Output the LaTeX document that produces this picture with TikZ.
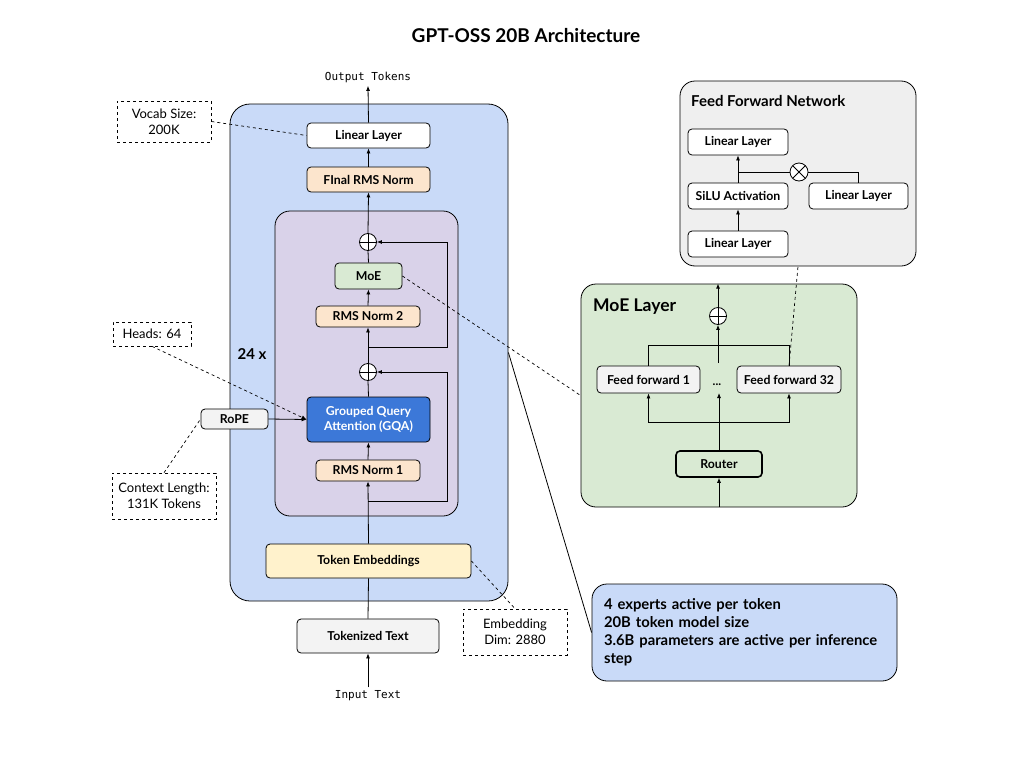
\documentclass[tikz,border=0pt]{standalone}
\usepackage{fontspec}
\setmainfont{Lato}
\setmonofont{DejaVu Sans Mono}
\usetikzlibrary{positioning}
\usetikzlibrary{arrows.meta}

\definecolor{outerblue}{HTML}{C9DAF8}
\definecolor{layerpurple}{HTML}{D9D2E9}
\definecolor{normorange}{HTML}{FCE5CD}
\definecolor{moegreen}{HTML}{D9EAD3}
\definecolor{embedyellow}{HTML}{FFF2CC}
\definecolor{gqablue}{HTML}{3C78D8}
\definecolor{lightgrey}{HTML}{F3F3F3}
\definecolor{ffngrey}{HTML}{EFEFEF}

\tikzset{
  block/.style={draw, rectangle, rounded corners=4pt, inner sep=0pt, align=center, line width=0.8pt, font=\fontsize{12.3}{15}\selectfont\bfseries},
  infobox/.style={draw, dashed, rectangle, inner sep=0pt, align=center, line width=0.7pt, font=\fontsize{13}{16}\selectfont},
  panel/.style={draw, rectangle, inner sep=0pt, line width=0.8pt},
  addop/.style={circle, draw, fill=white, minimum size=17pt, inner sep=0pt, line width=0.8pt,
    path picture={\draw (path picture bounding box.north) -- (path picture bounding box.south)
      (path picture bounding box.west) -- (path picture bounding box.east);}},
  mulop/.style={circle, draw, fill=white, minimum size=18pt, inner sep=0pt, line width=0.8pt,
    path picture={\draw ([shift={(45:9pt)}]path picture bounding box.center) -- ([shift={(225:9pt)}]path picture bounding box.center)
      ([shift={(135:9pt)}]path picture bounding box.center) -- ([shift={(315:9pt)}]path picture bounding box.center);}},
  flow/.style={line width=0.8pt},
  >={Latex[length=5pt,width=4pt]}
}

\begin{document}
\begin{tikzpicture}[x=1pt, y=-1pt]
\useasboundingbox (0,0) rectangle (1024,768);

% title
\node (title) at (526,36) [font=\fontsize{19}{22}\selectfont\bfseries]{GPT-OSS 20B Architecture};

% panels
\node (outer) at (369,352.5) [panel, rounded corners=20pt, fill=outerblue, minimum width=278pt, minimum height=497pt]{};
\node (block) at (366.5,363.5) [panel, rounded corners=15pt, fill=layerpurple, minimum width=183pt, minimum height=305pt]{};
\node (moelayer) at (719,395.5) [panel, rounded corners=15pt, fill=moegreen, minimum width=276pt, minimum height=223pt]{};
\node (ffn) at (798,173.5) [panel, rounded corners=15pt, fill=ffngrey, minimum width=236pt, minimum height=185pt]{};
\node (summary) at (744.5,632.5) [panel, rounded corners=15pt, fill=outerblue, minimum width=305pt, minimum height=97pt, text width=281pt, align=left, font=\fontsize{14.8}{18}\selectfont\bfseries]{4 experts active per token\\20B token model size\\3.6B parameters are active per inference\\step};

% main stack
\node (output) at (368,77) [font=\fontsize{11}{13}\selectfont\ttfamily]{Output Tokens};
\node (linear) at (368.5,135.5) [block, fill=white, minimum width=123pt, minimum height=25pt]{Linear Layer};
\node (finalnorm) at (368.5,179.5) [block, fill=normorange, minimum width=123pt, minimum height=25pt]{FInal RMS Norm};
\node (add2) at (368,242) [addop]{};
\node (moe) at (368.5,276) [block, fill=moegreen, minimum width=67pt, minimum height=26pt]{MoE};
\node (norm2) at (368,316.5) [block, fill=normorange, minimum width=104pt, minimum height=21pt]{RMS Norm 2};
\node (add1) at (368,372) [addop]{};
\node (gqa) at (368.5,419.5) [block, fill=gqablue, text=white, minimum width=123pt, minimum height=45pt]{Grouped Query\\Attention (GQA)};
\node (norm1) at (368,470.5) [block, fill=normorange, minimum width=104pt, minimum height=21pt]{RMS Norm 1};
\node (rope) at (234.5,419) [block, fill=lightgrey, minimum width=67pt, minimum height=20pt]{RoPE};
\node (embed) at (368.5,561) [block, fill=embedyellow, minimum width=205pt, minimum height=34pt]{Token Embeddings};
\node (tokenized) at (368,636) [block, fill=lightgrey, minimum width=142pt, minimum height=34pt]{Tokenized Text};
\node (input) at (368,696) [font=\fontsize{11}{13}\selectfont\ttfamily]{Input Text};
\node (depth) at (252,354) [font=\fontsize{15}{17}\selectfont\bfseries]{24 x};

% side notes
\node (vocab) at (164,121.5) [infobox, minimum width=94pt, minimum height=41pt]{Vocab Size:\\200K};
\node (heads) at (152,334) [infobox, minimum width=78pt, minimum height=24pt]{Heads: 64};
\node (context) at (164,496) [infobox, minimum width=104pt, minimum height=46pt]{Context Length:\\131K Tokens};
\node (embdim) at (515,632) [infobox, minimum width=104pt, minimum height=46pt]{Embedding\\Dim: 2880};

\coordinate (res1start) at (368,347);
\coordinate (res2start) at (368,501);

\draw[flow, ->] (linear.north) -- (output.south);
\draw[flow, ->] (finalnorm.north) -- (linear.south);
\draw[flow, ->] (add2.north) -- (finalnorm.south);
\draw[flow] (moe.north) -- (add2.south);
\draw[flow, ->] (norm2.north) -- (moe.south);
\draw[flow, ->] (add1.north) -- (norm2.south);
\draw[flow] (gqa.north) -- (add1.south);
\draw[flow, ->] (norm1.north) -- (gqa.south);
\draw[flow, ->] (embed.north) -- (norm1.south);
\draw[flow, ->] (res1start) -- ++(79,0) |- (add2.east);
\draw[flow, ->] (res2start) -- ++(79,0) |- (add1.east);
\draw[flow] (tokenized.north) -- (embed.south);
\draw[flow, ->] (input.north) -- (tokenized.south);
\draw[flow, ->] (rope.east) -- (gqa.west);

\draw[dashed, line width=0.7pt, ->] (heads.south) -- (gqa.west);
\draw[dashed, line width=0.7pt] (context.north) -- (rope.west);
\draw[dashed, line width=0.7pt] (vocab.east) -- (linear.west);
\draw[dashed, line width=0.7pt] (embed.east) -- (embdim.north);
\draw[dashed, line width=0.7pt] (moe.east) -- (moelayer.west);

% MoE layer
\node (moetitle) at (593,307) [anchor=west, inner sep=0pt, font=\fontsize{17.5}{20}\selectfont\bfseries]{MoE Layer};
\node (moeadd) at (718,316) [addop]{};
\node (ff1) at (648.5,379.5) [block, fill=lightgrey, minimum width=103pt, minimum height=27pt]{Feed forward 1};
\node (ff32) at (789,379.5) [block, fill=lightgrey, minimum width=104pt, minimum height=27pt]{Feed forward 32};
\node (dots) at (717,385) [font=\fontsize{12}{13}\selectfont\bfseries]{...};
\node (router) at (719,464) [block, fill=moegreen, line width=1.6pt, minimum width=86pt, minimum height=26pt]{Router};

\coordinate (ffmid) at (718,363);
\coordinate (dotsbase) at (719,393);

\draw[flow, ->] (moeadd.north) -- (moeadd.north |- moelayer.north);
\draw[flow] (ff1.north) -- ++(0,-20) -| (ff32.north);
\draw[flow, ->] (ffmid) -- (moeadd.south);
\draw[flow, ->] (router.north) -- (dotsbase);
\draw[flow, <->] (ff1.south) -- ++(0,29) -| (ff32.south);
\draw[flow, ->] (router.south |- moelayer.south) -- (router.south);
\draw[dashed, line width=0.7pt] (ff32.north) -- (ffn.south);
\draw[flow] (outer.east) -- (summary.west);

% feed forward network
\node (ffntitle) at (691,101) [anchor=west, inner sep=0pt, font=\fontsize{15}{17}\selectfont\bfseries]{Feed Forward Network};
\node (linup) at (738,142) [block, fill=white, minimum width=100pt, minimum height=26pt]{Linear Layer};
\node (silu) at (738,196) [block, fill=white, minimum width=100pt, minimum height=26pt]{SiLU Activation};
\node (lingate) at (738,244) [block, fill=white, minimum width=100pt, minimum height=26pt]{Linear Layer};
\node (linside) at (858.5,196) [block, fill=white, minimum width=99pt, minimum height=26pt]{Linear Layer};
\node (mult) at (799,172) [mulop]{};

\draw[flow, ->] (lingate.north) -- (silu.south);
\draw[flow, ->] (silu.north) -- (linup.south);
\draw[flow] (linside.north) |- (mult.east);
\draw[flow] (mult.west) -- (mult.west -| silu.north);

\end{tikzpicture}
\end{document}
